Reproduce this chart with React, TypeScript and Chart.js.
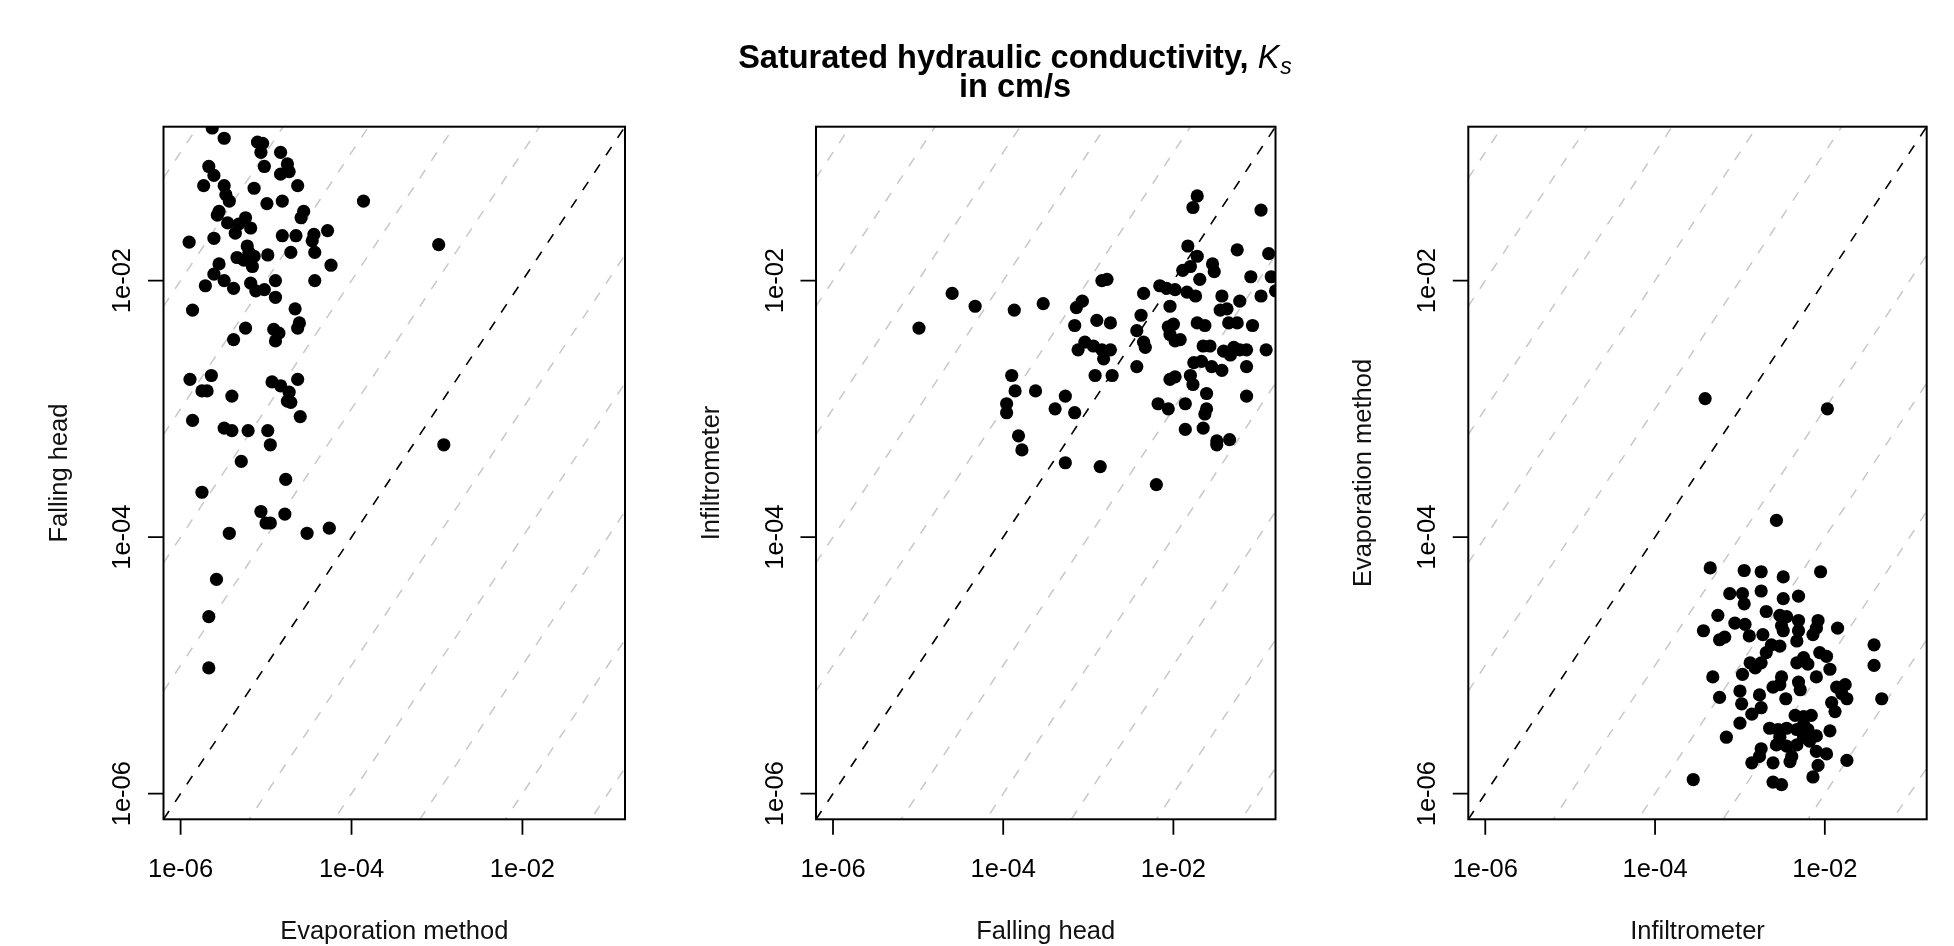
import React, { useEffect, useRef } from "react";
import { Chart, registerables } from "chart.js";

Chart.register(...registerables);

// ---------- data (log10 of Ks in cm/s) ----------
const TICK_VALUES = [1e-6, 1e-4, 1e-2];
const TICK_LABELS = ["1e-06", "1e-04", "1e-02"];
const AXIS_MIN_EXP = -6.2;
const AXIS_MAX_EXP = -0.8;
const GUIDE_OFFSETS = [-5, -4, -3, -2, -1, 1, 2, 3, 4, 5];

const X_TITLES = ["Evaporation method", "Falling head", "Infiltrometer"];
const Y_TITLES = ["Falling head", "Infiltrometer", "Evaporation method"];

// Panel 1: Evaporation method (x) vs Falling head (y)
const evapLogP1 = [
  -5.63, -5.49, -5.10, -5.04, -5.06, -4.83, -5.67, -5.61, -5.02, -4.75,
  -4.83, -4.73, -5.73, -5.49, -5.14, -4.63, -5.47, -5.43, -4.99, -4.81,
  -3.86, -5.55, -5.57, -4.56, -4.59, -5.24, -5.32, -5.45, -5.18, -5.36,
  -4.28, -5.90, -5.61, -4.81, -4.65, -4.44, -4.46, -2.98, -5.22, -5.20,
  -5.34, -5.26, -5.14, -5.16, -4.98, -4.71, -4.43, -5.55, -5.61, -4.24,
  -5.71, -5.49, -5.38, -5.18, -5.12, -5.02, -4.89, -4.89, -4.43, -5.86,
  -4.66, -4.61, -4.63, -5.24, -5.38, -4.91, -4.85, -4.89, -5.89, -5.64,
  -5.75, -5.69, -5.40, -4.93, -4.83, -4.63, -4.73, -4.75, -4.71, -4.60,
  -5.86, -5.49, -5.40, -5.21, -4.98, -4.95, -2.92, -5.29, -4.77, -5.75,
  -5.06, -4.78, -5.00, -4.95, -5.43, -4.52, -4.26, -5.58, -5.67, -5.67,
];
const fallingLogP1 = [
  -0.81, -0.89, -0.92, -0.93, -1.00, -1.00, -1.11, -1.18, -1.11, -1.09,
  -1.17, -1.15, -1.26, -1.26, -1.28, -1.26, -1.33, -1.38, -1.40, -1.38,
  -1.38, -1.46, -1.49, -1.46, -1.51, -1.51, -1.56, -1.55, -1.59, -1.63,
  -1.61, -1.70, -1.67, -1.65, -1.65, -1.64, -1.69, -1.72, -1.73, -1.78,
  -1.82, -1.84, -1.81, -1.89, -1.80, -1.78, -1.78, -1.87, -1.95, -1.88,
  -2.04, -2.00, -2.06, -2.02, -2.08, -2.07, -2.00, -2.13, -2.00, -2.23,
  -2.22, -2.33, -2.37, -2.37, -2.46, -2.38, -2.41, -2.47, -2.77, -2.74,
  -2.86, -2.86, -2.90, -2.79, -2.82, -2.77, -2.87, -2.94, -2.95, -3.06,
  -3.09, -3.15, -3.17, -3.17, -3.17, -3.28, -3.28, -3.41, -3.55, -3.65,
  -3.80, -3.82, -3.89, -3.89, -3.97, -3.97, -3.93, -4.33, -4.62, -5.02,
];

// Panel 2: Falling head (x) vs Infiltrometer (y)
const fallingLogP2 = [
  -1.72, -1.77, -0.97, -1.83, -1.72, -1.25, -0.88, -1.54, -1.52, -1.89,
  -1.80, -1.69, -1.09, -0.85, -0.80, -0.97, -2.84, -2.78, -2.35, -2.16,
  -2.08, -1.98, -1.84, -1.74, -1.43, -1.22, -1.45, -1.37, -2.04, -4.60,
  -4.33, -3.87, -3.53, -4.99, -3.14, -3.07, -3.16, -2.90, -2.74, -2.38,
  -2.43, -2.06, -2.00, -1.72, -1.63, -1.35, -1.25, -1.07, -2.04, -1.98,
  -1.92, -3.04, -3.12, -2.94, -2.84, -2.74, -2.82, -2.35, -2.33, -2.43,
  -1.65, -1.57, -1.41, -1.29, -1.22, -1.14, -0.91, -1.33, -1.76, -1.67,
  -1.55, -1.43, -1.14, -2.92, -2.72, -2.04, -1.98, -1.80, -1.77, -1.61,
  -1.14, -3.90, -3.86, -3.62, -3.96, -3.96, -3.27, -3.39, -3.16, -2.18,
  -2.06, -1.86, -1.61, -1.63, -1.65, -1.86, -1.49, -1.49, -1.34, -3.82,
  -3.78, -3.27, -2.86, -2.20,
];
const infiltLogP2 = [
  -1.34, -1.43, -1.45, -1.73, -1.81, -1.76, -1.79, -1.87, -1.93, -1.92,
  -1.89, -1.99, -1.97, -1.97, -2.08, -2.12, -2.00, -1.99, -2.10, -2.04,
  -2.06, -2.07, -2.09, -2.12, -2.12, -2.16, -2.23, -2.22, -2.20, -2.10,
  -2.20, -2.23, -2.18, -2.37, -2.21, -2.16, -2.35, -2.31, -2.33, -2.27,
  -2.39, -2.36, -2.34, -2.33, -2.35, -2.33, -2.33, -2.35, -2.42, -2.47,
  -2.46, -2.48, -2.54, -2.51, -2.54, -2.54, -2.61, -2.48, -2.52, -2.67,
  -2.51, -2.51, -2.55, -2.52, -2.54, -2.54, -2.54, -2.58, -2.64, -2.63,
  -2.67, -2.70, -2.67, -2.74, -2.74, -2.77, -2.75, -2.74, -2.81, -2.88,
  -2.90, -2.74, -2.86, -2.86, -2.96, -3.03, -2.90, -3.00, -3.03, -2.96,
  -3.00, -2.96, -3.00, -3.04, -3.15, -3.16, -3.25, -3.28, -3.24, -3.21,
  -3.32, -3.42, -3.45, -3.59,
];

// Panel 3: Infiltrometer (x) vs Evaporation method (y)
const infiltLogP3 = [
  -3.41, -1.97, -2.57, -3.35, -2.95, -2.75, -2.49, -2.05, -3.12, -2.97,
  -2.95, -2.75, -2.49, -2.31, -2.69, -3.26, -3.43, -3.06, -2.94, -2.89,
  -2.73, -2.53, -2.45, -2.51, -2.49, -2.31, -2.31, -2.08, -1.85, -3.24,
  -3.18, -2.63, -2.53, -2.69, -2.33, -2.14, -2.10, -2.06, -1.98, -2.25,
  -2.33, -2.20, -2.88, -2.82, -2.75, -1.94, -1.42, -1.42, -3.32, -2.97,
  -2.51, -2.10, -2.61, -2.53, -2.31, -2.29, -1.86, -1.76, -1.80, -1.74,
  -1.33, -3.24, -3.00, -2.77, -2.46, -2.98, -1.92, -1.88, -2.86, -2.75,
  -3.00, -2.35, -2.25, -2.16, -2.25, -2.65, -2.55, -2.45, -2.33, -2.20,
  -2.10, -1.94, -3.16, -2.53, -2.25, -2.18, -2.57, -2.45, -2.33, -2.75,
  -2.10, -1.98, -2.77, -2.39, -2.41, -2.86, -2.61, -1.74, -2.08, -2.14,
  -3.55, -2.61, -2.51,
];
const evapLogP3 = [
  -2.92, -3.00, -3.87, -4.24, -4.26, -4.27, -4.31, -4.27, -4.44, -4.44,
  -4.52, -4.42, -4.48, -4.46, -4.58, -4.61, -4.73, -4.67, -4.68, -4.77,
  -4.76, -4.61, -4.62, -4.69, -4.73, -4.65, -4.73, -4.65, -4.71, -4.80,
  -4.78, -4.84, -4.85, -4.90, -4.81, -4.76, -4.71, -4.90, -4.93, -4.94,
  -4.98, -4.99, -4.98, -5.02, -4.98, -5.03, -4.84, -5.00, -5.09, -5.07,
  -5.09, -5.09, -5.17, -5.15, -5.13, -5.19, -5.17, -5.15, -5.22, -5.26,
  -5.26, -5.25, -5.20, -5.23, -5.26, -5.30, -5.29, -5.36, -5.38, -5.33,
  -5.45, -5.39, -5.40, -5.39, -5.46, -5.49, -5.50, -5.49, -5.50, -5.50,
  -5.55, -5.51, -5.56, -5.56, -5.56, -5.59, -5.62, -5.63, -5.62, -5.65,
  -5.67, -5.69, -5.71, -5.71, -5.75, -5.76, -5.76, -5.74, -5.78, -5.87,
  -5.89, -5.91, -5.93,
];

const PANEL_X_DATA = [evapLogP1, fallingLogP2, infiltLogP3];
const PANEL_Y_DATA = [fallingLogP1, infiltLogP2, evapLogP3];

// ---------- layout ----------
const PAGE_W = 1954;
const PAGE_H = 946;
const PLOT_LEFT = [163.5, 816, 1468.3];
const PLOT_RIGHT = [625, 1275.5, 1926.7];
const PLOT_TOP = 126.7;
const PLOT_BOTTOM = 819.3;
const TICK_LEN = 15.5;
const FONT = '"Liberation Sans", Arial, Helvetica, sans-serif';

function makeAxesPlugin(idx: number) {
  return {
    id: "rAxes" + idx,
    afterDatasetsDraw(chart: any) {
      const { ctx, chartArea: a, scales } = chart;
      const xs = scales.x;
      const ys = scales.y;
      ctx.save();
      ctx.strokeStyle = "#000";
      ctx.lineWidth = 2;
      ctx.strokeRect(a.left, a.top, a.right - a.left, a.bottom - a.top);
      ctx.lineWidth = 1.8;
      ctx.beginPath();
      TICK_VALUES.forEach((v) => {
        const px = xs.getPixelForValue(v);
        ctx.moveTo(px, a.bottom);
        ctx.lineTo(px, a.bottom + TICK_LEN);
        const py = ys.getPixelForValue(v);
        ctx.moveTo(a.left - TICK_LEN, py);
        ctx.lineTo(a.left, py);
      });
      ctx.stroke();

      ctx.fillStyle = "#000";
      ctx.font = `25.5px ${FONT}`;
      ctx.textAlign = "center";
      ctx.textBaseline = "alphabetic";
      TICK_VALUES.forEach((v, i) => {
        ctx.fillText(TICK_LABELS[i], xs.getPixelForValue(v), a.bottom + 58);
        ctx.save();
        ctx.translate(a.left - 33.5, ys.getPixelForValue(v));
        ctx.rotate(-Math.PI / 2);
        ctx.fillText(TICK_LABELS[i], 0, 0);
        ctx.restore();
      });
      ctx.fillStyle = "#111";
      ctx.fillText(X_TITLES[idx], (a.left + a.right) / 2, 939);
      ctx.save();
      ctx.translate(a.left - 97, (a.top + a.bottom) / 2);
      ctx.rotate(-Math.PI / 2);
      ctx.fillText(Y_TITLES[idx], 0, 0);
      ctx.restore();

      if (idx === 0) {
        // main title
        const cx = 1015;
        const part1 = "Saturated hydraulic conductivity, ";
        const boldFont = `bold 32.5px ${FONT}`;
        const italFont = `italic 32.5px ${FONT}`;
        const subFont = `italic 23px ${FONT}`;
        ctx.font = boldFont;
        const w1 = ctx.measureText(part1).width;
        ctx.font = italFont;
        const w2 = ctx.measureText("K").width;
        ctx.font = subFont;
        const w3 = ctx.measureText("s").width;
        const total = w1 + w2 + w3 + 1;
        let x0 = cx - total / 2;
        const base1 = 68;
        ctx.textAlign = "left";
        ctx.fillStyle = "#000";
        ctx.font = boldFont;
        ctx.fillText(part1, x0, base1);
        x0 += w1;
        ctx.font = italFont;
        ctx.fillText("K", x0, base1);
        x0 += w2 + 1;
        ctx.font = subFont;
        ctx.fillText("s", x0, base1 + 6);
        ctx.textAlign = "center";
        ctx.font = boldFont;
        ctx.fillText("in cm/s", cx, 97);
      }
      ctx.restore();
    },
  };
}

function Panel({ idx }: { idx: number }) {
  const ref = useRef<HTMLCanvasElement | null>(null);
  useEffect(() => {
    if (!ref.current) return;
    const axisMin = Math.pow(10, AXIS_MIN_EXP);
    const axisMax = Math.pow(10, AXIS_MAX_EXP);
    const xs = PANEL_X_DATA[idx];
    const ys = PANEL_Y_DATA[idx];
    const points = xs.map((lx, i) => ({ x: Math.pow(10, lx), y: Math.pow(10, ys[i]) }));
    const guideSets = GUIDE_OFFSETS.map((k) => ({
      data: [
        { x: axisMin, y: Math.pow(10, AXIS_MIN_EXP + k) },
        { x: axisMax, y: Math.pow(10, AXIS_MAX_EXP + k) },
      ],
      showLine: true,
      borderColor: "#c8c8c8",
      borderWidth: 1.5,
      borderDash: [10, 11],
      pointRadius: 0,
      clip: 0,
    }));
    const chart = new Chart(ref.current, {
      type: "scatter",
      data: {
        datasets: [
          {
            data: points,
            pointRadius: 6.6,
            pointBackgroundColor: "#000",
            pointBorderWidth: 0,
            pointHoverRadius: 6.6,
            clip: 0,
          } as any,
          {
            data: [
              { x: axisMin, y: axisMin },
              { x: axisMax, y: axisMax },
            ],
            showLine: true,
            borderColor: "#000",
            borderWidth: 1.6,
            borderDash: [10, 11],
            pointRadius: 0,
            clip: 0,
          },
          ...guideSets,
        ],
      },
      options: {
        animation: false,
        responsive: false,
        maintainAspectRatio: false,
        devicePixelRatio: 1,
        events: [],
        layout: {
          padding: {
            left: PLOT_LEFT[idx],
            right: PAGE_W - PLOT_RIGHT[idx],
            top: PLOT_TOP,
            bottom: PAGE_H - PLOT_BOTTOM,
          },
        },
        plugins: { legend: { display: false }, tooltip: { enabled: false }, title: { display: false } },
        scales: {
          x: { type: "logarithmic", min: axisMin, max: axisMax, bounds: "data", display: false },
          y: { type: "logarithmic", min: axisMin, max: axisMax, bounds: "data", display: false },
        },
      } as any,
      plugins: [makeAxesPlugin(idx)],
    });
    return () => chart.destroy();
  }, [idx]);
  return (
    <canvas
      ref={ref}
      width={PAGE_W}
      height={PAGE_H}
      style={{ position: "absolute", left: 0, top: 0, width: PAGE_W, height: PAGE_H }}
    />
  );
}

export default function App() {
  return (
    <div
      style={{
        position: "fixed",
        left: 0,
        top: 0,
        width: PAGE_W,
        height: PAGE_H,
        background: "#fff",
        overflow: "hidden",
      }}
    >
      <Panel idx={0} />
      <Panel idx={1} />
      <Panel idx={2} />
    </div>
  );
}
